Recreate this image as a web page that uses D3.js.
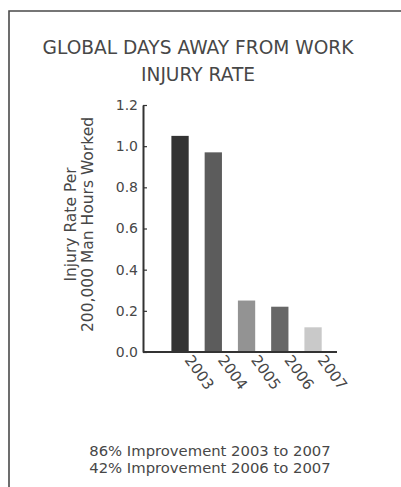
<!DOCTYPE html>
<html>
<head>
<meta charset="utf-8">
<script src="https://cdn.jsdelivr.net/npm/d3@7/dist/d3.min.js"></script>
<style>
  html, body { margin: 0; padding: 0; background: #fff; }
  svg { display: block; font-family: "DejaVu Sans", "Open Sans", sans-serif; }
</style>
</head>
<body>
<svg id="chart" width="401" height="487"></svg>
<script>
// Injury rate per 200,000 man hours worked, by year
const years = ["2003", "2004", "2005", "2006", "2007"];
const rates = [1.05, 0.97, 0.25, 0.22, 0.12];
const barColors = ["#333333", "#5c5c5c", "#939393", "#676767", "#c9c9c9"];
const yTicks = [0.0, 0.2, 0.4, 0.6, 0.8, 1.0, 1.2];
const titleLines = ["GLOBAL DAYS AWAY FROM WORK", "INJURY RATE"];
const yLabelLines = ["Injury Rate Per", "200,000 Man Hours Worked"];
const notes = ["86% Improvement 2003 to 2007", "42% Improvement 2006 to 2007"];

const svg = d3.select("#chart");
const ink = "#474747";
const font = "'DejaVu Sans', 'Open Sans', sans-serif";

// frame (only top and left edges fall inside the view)
svg.append("path")
  .attr("d", "M9,487 V11 H401")
  .attr("fill", "none")
  .attr("stroke", "#4a4a4a")
  .attr("stroke-width", 1.6);

// title
svg.append("g").selectAll("text")
  .data(titleLines)
  .join("text")
  .attr("x", 198)
  .attr("y", (d, i) => 54 + i * 27)
  .attr("text-anchor", "middle")
  .attr("fill", ink)
  .attr("font-size", 18.6)
  .text(d => d);

const plot = { left: 143, right: 337, top: 105, bottom: 352 };

const y = d3.scaleLinear()
  .domain([0, 1.2])
  .range([plot.bottom, plot.top]);

const x = d3.scaleBand()
  .domain(years)
  .range([171.4, 321.7])
  .paddingInner(0.48)
  .paddingOuter(0);

// bars
svg.append("g").selectAll("rect")
  .data(years)
  .join("rect")
  .attr("x", d => x(d))
  .attr("width", x.bandwidth())
  .attr("y", (d, i) => y(rates[i]))
  .attr("height", (d, i) => y(0) - y(rates[i]))
  .attr("fill", (d, i) => barColors[i]);

// y axis, ticks pointing into the plot
const yAxis = d3.axisRight(y)
  .tickValues(yTicks)
  .tickFormat(d3.format(".1f"))
  .tickSize(4)
  .tickSizeOuter(0);

const gy = svg.append("g")
  .attr("transform", `translate(${plot.left},0)`)
  .call(yAxis);
gy.select(".domain").attr("stroke", "#333").attr("stroke-width", 2);
gy.selectAll(".tick line").attr("stroke", "#333").attr("stroke-width", 1.2);
gy.selectAll(".tick text")
  .attr("x", -5)
  .attr("text-anchor", "end")
  .attr("fill", ink)
  .attr("font-size", 14)
  .attr("font-family", font);

// x axis baseline with rotated year labels
const xAxis = d3.axisBottom(x).tickSize(0).tickSizeOuter(0);
const gx = svg.append("g")
  .attr("transform", `translate(0,${plot.bottom})`)
  .call(xAxis);
gx.select(".domain")
  .attr("d", `M${plot.left},0H${plot.right}`)
  .attr("stroke", "#333")
  .attr("stroke-width", 2);
gx.selectAll(".tick text")
  .attr("fill", ink)
  .attr("font-size", 15)
  .attr("font-family", font)
  .attr("text-anchor", "start")
  .attr("y", 0)
  .attr("dy", null)
  .attr("transform", "translate(4,8) rotate(54)");

// y axis title
const yLab = svg.append("text")
  .attr("transform", `translate(0,${(plot.top + plot.bottom) / 2 - 4}) rotate(-90)`)
  .attr("text-anchor", "middle")
  .attr("fill", ink)
  .attr("font-size", 15.5);
yLab.selectAll("tspan")
  .data(yLabelLines)
  .join("tspan")
  .attr("x", 0)
  .attr("y", (d, i) => 76 + i * 17)
  .text(d => d);

// summary notes
svg.append("g").selectAll("text")
  .data(notes)
  .join("text")
  .attr("x", 210)
  .attr("y", (d, i) => 456 + i * 17)
  .attr("text-anchor", "middle")
  .attr("fill", ink)
  .attr("font-size", 14.8)
  .text(d => d);
</script>
</body>
</html>
